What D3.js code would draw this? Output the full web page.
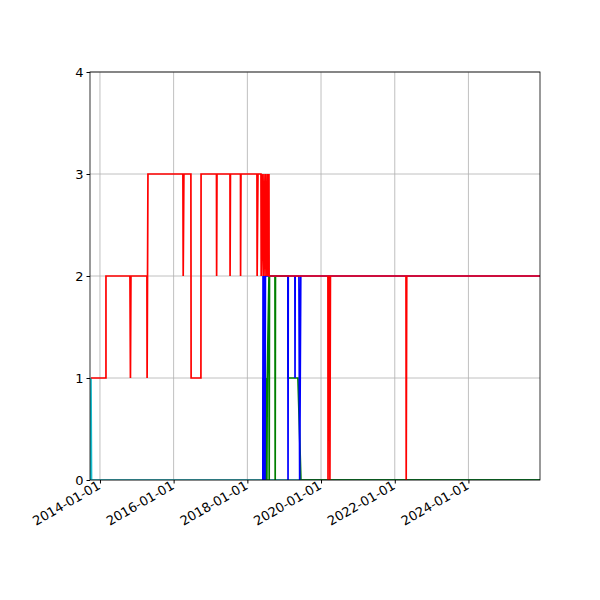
<!DOCTYPE html><html><head><script src="https://cdn.jsdelivr.net/npm/d3@7"></script>
<style>body{margin:0;background:#fff}text{font-family:"DejaVu Sans";}</style></head><body>
<svg id="c" width="600" height="600"></svg>
<script>
const xDomain=[2013.729,2025.94];
const yTicks=[0,1,2,3,4];
const xTickYears=[2014,2016,2018,2020,2022,2024];
const cyanSeries=[[2013.74,0],[2013.756,1],[2013.77,0],[2025.94,0]];
const blueSeries=[[2018.42,0],[2018.425,2],[2018.432,0],[2018.44,2],[2018.447,0],[2018.455,2],[2018.462,0],[2018.47,2],[2018.478,0],[2018.49,2],[2019.1,2],[2019.104,0],[2019.11,2],[2019.29,2],[2019.294,1],[2019.298,2],[2019.40,2],[2019.42,0],[2019.45,2],[2025.94,2]];
const greenSeries=[[2018.42,0],[2018.43,1],[2018.44,0],[2018.45,1],[2018.46,0],[2018.47,1],[2018.48,0],[2018.49,1],[2018.50,0],[2018.51,1],[2018.53,0],[2018.54,1],[2018.586,2],[2018.592,0],[2018.60,2],[2018.749,2],[2018.755,0],[2018.762,2],[2019.10,2],[2019.105,1],[2019.373,1],[2019.454,0],[2025.94,0]];
const redSeries=[[2013.756,1],[2014.163,1],[2014.163,2],[2014.814,2],[2014.827,1],[2014.841,2],[2015.275,2],[2015.28,1],[2015.303,3],[2016.252,3],[2016.26,2],[2016.279,3],[2016.469,3],[2016.475,1],[2016.741,1],[2016.745,3],[2017.161,3],[2017.165,2],[2017.175,3],[2017.528,3],[2017.53,2],[2017.54,3],[2017.813,3],[2017.815,2],[2017.826,3],[2018.26,3],[2018.265,2],[2018.288,3],[2018.369,3],[2018.375,2],[2018.40,3],[2018.43,2],[2018.45,3],[2018.48,2],[2018.50,3],[2018.53,2],[2018.55,3],[2018.57,2],[2018.586,3],[2018.59,2],[2020.187,2],[2020.19,0],[2020.205,2],[2020.236,2],[2020.241,0],[2020.255,2],[2022.304,2],[2022.31,0],[2022.325,2],[2025.94,2]];
const dy=y=>{const f=Math.floor(y);return new Date(Date.UTC(f,0,1)+(y-f)*365.25*864e5);};
const svg=d3.select("#c");
const L=90,R=540,T=72,B=480;
const x=d3.scaleUtc().domain(xDomain.map(dy)).range([L,R]);
const y=d3.scaleLinear().domain([0,4]).range([B,T]);
const xt=xTickYears.map(v=>new Date(Date.UTC(v,0,1)));
const g=svg.append("g");
g.selectAll(".gx").data(xt).join("line").attr("x1",d=>x(d)).attr("x2",d=>x(d)).attr("y1",T).attr("y2",B).attr("stroke","#b0b0b0").attr("stroke-width",0.8);
g.selectAll(".gy").data(yTicks).join("line").attr("y1",d=>y(d)).attr("y2",d=>y(d)).attr("x1",L).attr("x2",R).attr("stroke","#b0b0b0").attr("stroke-width",0.8);
const line=d3.line().x(d=>x(dy(d[0]))).y(d=>y(d[1]));
const clip=svg.append("clipPath").attr("id","cl").append("rect").attr("x",L).attr("y",T).attr("width",R-L).attr("height",B-T);
[[cyanSeries,"#17becf"],[greenSeries,"green"],[blueSeries,"blue"],[redSeries,"red"]].forEach(([s,c])=>{
 svg.append("path").attr("d",line(s)).attr("fill","none").attr("stroke",c).attr("stroke-width",1.7).attr("clip-path","url(#cl)");
});
svg.append("rect").attr("x",L).attr("y",T).attr("width",R-L).attr("height",B-T).attr("fill","none").attr("stroke","#000").attr("stroke-width",0.8);
const xa=svg.append("g").attr("transform",`translate(0,${B})`).call(d3.axisBottom(x).tickValues(xt).tickFormat(d3.utcFormat("%Y-%m-%d")).tickSize(3.5).tickSizeOuter(0));
xa.select(".domain").remove();
xa.selectAll("text").attr("font-size",13).attr("font-family","DejaVu Sans").attr("text-anchor","end").attr("dy",0).attr("transform","translate(-2,3) rotate(-30)").attr("y",6).attr("x",0);
const ya=svg.append("g").attr("transform",`translate(${L},0)`).call(d3.axisLeft(y).tickValues(yTicks).tickFormat(d3.format("d")).tickSize(3.5).tickSizeOuter(0));
ya.select(".domain").remove();
ya.selectAll("text").attr("font-size",13).attr("font-family","DejaVu Sans").attr("fill","#000");
xa.selectAll("text").attr("fill","#000");
</script></body></html>
